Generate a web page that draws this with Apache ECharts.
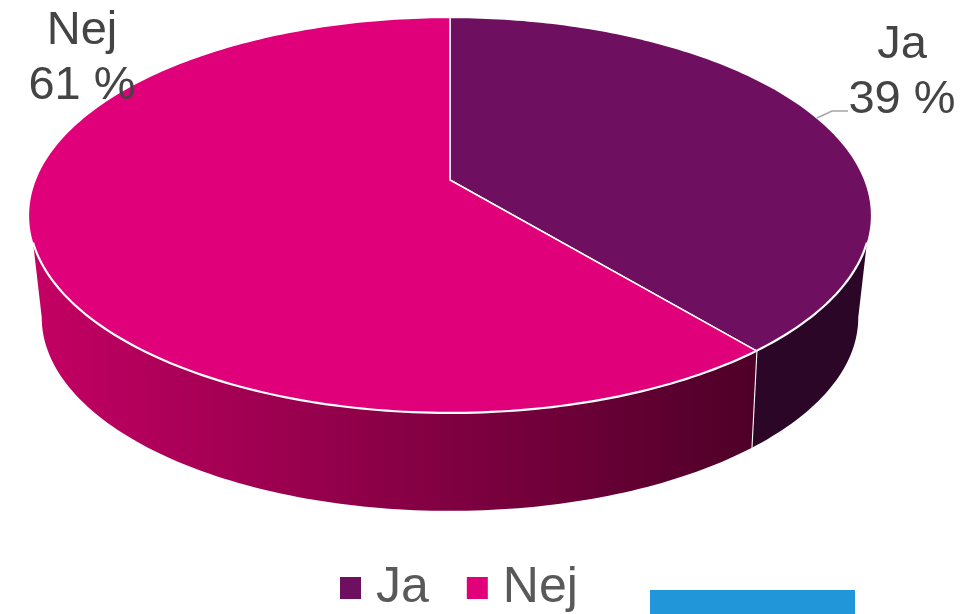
<!DOCTYPE html>
<html><head><meta charset="utf-8">
<style>html,body{margin:0;padding:0;background:#fff}#c{width:974px;height:614px}</style>
<script src="https://cdn.jsdelivr.net/npm/echarts@6/dist/echarts.min.js"></script>
</head><body><div id="c"></div>
<script>
const categories = ['Ja', 'Nej'];
const values = [39, 61];
const topColors = ['#6E0F5F', '#E0007A'];

const total = values.reduce((a, b) => a + b, 0);
const TOP = {cx: 450, cy: 180, a: 191, c: 414, p: 0.18};
const BOT = {cx: 450, cy: 279, a: 185.5, c: 400, p: 0.2};
const WALL_TOP = [108, 252], WALL_BOT = [101.5, 258.5];
const LABELS = [
  {x: 902, y: 73, line: [[848, 111], [832, 111], [817, 118]]},
  {x: 82, y: 59}
];
const font = '47px "Liberation Sans", Arial, sans-serif';

function pt(e, deg) {
  const t = deg * Math.PI / 180, x = Math.sin(t), y = -Math.cos(t), w = 1 - e.p * y;
  return [e.cx + e.c * x / w, e.cy + e.a * y / w];
}
function arc(e, d0, d1) {
  const n = Math.max(2, Math.ceil(Math.abs(d1 - d0))), r = [];
  for (let i = 0; i <= n; i++) r.push(pt(e, d0 + (d1 - d0) * i / n));
  return r;
}
function wallFill(i) {
  if (i === 0) return '#2B0627';
  return new echarts.graphic.LinearGradient(0, 0, 1, 0, [
    {offset: 0, color: '#C40064'},
    {offset: 1, color: '#4E0028'}
  ]);
}
function renderSlice(i) {
  return function (params, api) {
    const v = api.value(0);
    const before = values.slice(0, i).reduce((a, b) => a + b, 0);
    const d0 = before / total * 360, d1 = d0 + v / total * 360;
    const tA = Math.max(d0, WALL_TOP[0]), tB = Math.min(d1, WALL_TOP[1]);
    const bA = Math.max(d0, WALL_BOT[0]), bB = Math.min(d1, WALL_BOT[1]);
    const wall = arc(TOP, tA, tB).concat(arc(BOT, bA, bB).reverse());
    const apex = [TOP.cx, TOP.cy];
    const kids = [
      {type: 'polygon', shape: {points: wall}, style: {fill: wallFill(i)}},
      {type: 'polygon', shape: {points: [apex].concat(arc(TOP, d0, d1))}, style: {fill: topColors[i]}},
      {type: 'polyline', shape: {points: arc(TOP, tA, tB)}, style: {fill: null, stroke: '#fff', lineWidth: 2.2}},
      {type: 'polyline', shape: {points: [pt(TOP, d0), apex, pt(TOP, d1)]}, style: {fill: null, stroke: '#fff', lineWidth: 1.5}}
    ];
    if (d1 > WALL_TOP[0] && d1 < WALL_TOP[1]) {
      kids.push({type: 'polyline', shape: {points: [pt(TOP, d1), pt(BOT, d1)]}, style: {fill: null, stroke: '#fff', lineWidth: 2.2}});
    }
    const L = LABELS[i];
    if (L.line) kids.push({type: 'polyline', shape: {points: L.line}, style: {fill: null, stroke: '#A6A6A6', lineWidth: 1.5}});
    kids.push({type: 'text', style: {x: L.x, y: L.y, text: categories[i] + '\n' + v + ' %', font: font, lineHeight: 55, fill: '#444444', align: 'center', verticalAlign: 'middle'}});
    return {type: 'group', children: kids};
  };
}
const chart = echarts.init(document.getElementById('c'), null, {renderer: 'canvas'});
chart.setOption({
  animation: false,
  backgroundColor: '#fff',
  legend: {
    data: categories, left: 335, top: 558, icon: 'rect', itemWidth: 21, itemHeight: 22, itemGap: 38, selectedMode: false,
    textStyle: {fontFamily: '"Liberation Sans", Arial, sans-serif', fontSize: 50, color: '#595959', padding: [0, 0, 0, 10]}
  },
  graphic: [{type: 'rect', shape: {x: 650, y: 590, width: 205, height: 24}, style: {fill: '#2196D9'}}],
  series: categories.map((name, i) => ({
    type: 'custom', name: name, coordinateSystem: 'none', itemStyle: {color: topColors[i]},
    renderItem: renderSlice(i), data: [[values[i]]], silent: true
  }))
});
</script></body></html>
